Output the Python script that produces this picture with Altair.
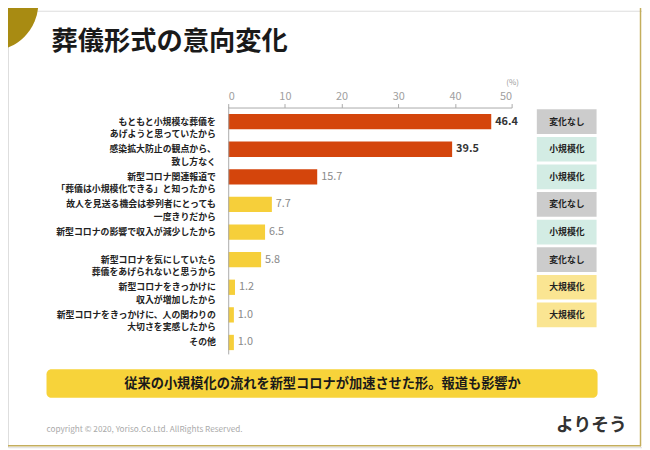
import altair as alt
import pandas as pd

# ---- data ----
reasons = [
    "もともと小規模な葬儀を\nあげようと思っていたから",
    "感染拡大防止の観点から、\n致し方なく",
    "新型コロナ関連報道で\n「葬儀は小規模化できる」と知ったから",
    "故人を見送る機会は参列者にとっても\n一度きりだから",
    "新型コロナの影響で収入が減少したから",
    "新型コロナを気にしていたら\n葬儀をあげられないと思うから",
    "新型コロナをきっかけに\n収入が増加したから",
    "新型コロナをきっかけに、人の関わりの\n大切さを実感したから",
    "その他",
]
values = [46.4, 39.5, 15.7, 7.7, 6.5, 5.8, 1.2, 1.0, 1.0]
tags = ["変化なし", "小規模化", "小規模化", "変化なし", "小規模化", "変化なし", "大規模化", "大規模化", ""]
tick_values = [0, 10, 20, 30, 40, 50]

title_text = "葬儀形式の意向変化"
banner_text = "従来の小規模化の流れを新型コロナが加速させた形。報道も影響か"
copyright_text = "copyright © 2020,  Yoriso.Co.Ltd. AllRights Reserved."
logo_text = "よりそう"

RED = "#D4450C"
YEL = "#F6CF3A"
tag_colors = {"変化なし": "#CCCCCC", "小規模化": "#D3ECE4", "大規模化": "#FAE592"}

df = pd.DataFrame({
    "row": list(range(len(values))),
    "reason": reasons,
    "value": values,
    "tag": tags,
    "barcolor": [RED if i < 3 else YEL for i in range(len(values))],
    "tagcolor": [tag_colors.get(t, "#FFFFFF") for t in tags],
})

FONT = "Noto Sans CJK JP"
W, H = 642, 442

xscale = alt.Scale(domain=[0, 50], range=[223, 510], nice=False, zero=False)
yscale = alt.Scale(domain=[0, 8], range=[112.3, 335.9], nice=False, zero=False)
xaxis = alt.Axis(orient="top", offset=-98, values=tick_values, title=None, grid=False,
                 labelColor="#A0A0A0", labelFont=FONT, labelFontSize=11, labelFontWeight="normal",
                 tickColor="#AAAAAA", domainColor="#AAAAAA", tickSize=4, labelPadding=2,
                 domainWidth=1, tickWidth=1)
XENC = alt.X("value:Q", scale=xscale, axis=xaxis)

base = alt.Chart(df)

# decoration
circle = alt.Chart(pd.DataFrame({"k": [0]})).mark_circle(size=9503, color="#A88B12", opacity=1).encode(
    x=alt.value(-18), y=alt.value(-8))
border_r = alt.Chart(pd.DataFrame({"k": [0]})).mark_rule(color="#C4AE5C", strokeWidth=1.5).encode(
    x=alt.value(640.5), y=alt.value(-8), y2=alt.value(441))
border_b = alt.Chart(pd.DataFrame({"k": [0]})).mark_rule(color="#C4AE5C", strokeWidth=1.5).encode(
    y=alt.value(440.5), x=alt.value(-8), x2=alt.value(641))

title = alt.Chart(pd.DataFrame({"t": [title_text]})).mark_text(
    font=FONT, fontSize=26.6, fontWeight="bold", color="#1A1A1A", align="left", baseline="middle"
).encode(x=alt.value(44), y=alt.value(32), text="t:N")

pct = alt.Chart(pd.DataFrame({"t": ["(%)"]})).mark_text(
    font=FONT, fontSize=8, color="#999999", align="center", baseline="middle"
).encode(x=alt.value(511), y=alt.value(73), text="t:N")

bars = base.mark_rect().transform_calculate(
    y0="datum.row - 0.277", y1="datum.row + 0.277", zero="0"
).encode(
    x=XENC,
    x2="zero:Q",
    y=alt.Y("y0:Q", scale=yscale, axis=None),
    y2="y1:Q",
    color=alt.Color("barcolor:N", scale=None),
)

zero_rule = alt.Chart(pd.DataFrame({"k": [0]})).mark_rule(color="#AAAAAA", strokeWidth=1).encode(
    x=alt.value(223.5), y=alt.value(98), y2=alt.value(348))

val_bold = base.transform_filter("datum.row < 2").mark_text(
    font=FONT, fontSize=11, fontWeight="bold", color="#333333", align="left", baseline="middle", dx=4
).encode(x=XENC, y=alt.Y("row:Q", scale=yscale, axis=None), text=alt.Text("value:Q", format=".1f"))

val_norm = base.transform_filter("datum.row >= 2").mark_text(
    font=FONT, fontSize=11, color="#8A8A8A", align="left", baseline="middle", dx=4
).encode(x=XENC, y=alt.Y("row:Q", scale=yscale, axis=None), text=alt.Text("value:Q", format=".1f"))

labels = base.mark_text(
    font=FONT, fontSize=9, fontWeight="bold", color="#222222", align="right", baseline="middle",
    lineBreak="\n", lineHeight=12.5
).encode(x=alt.value(210.5), y=alt.Y("row:Q", scale=yscale, axis=None), text="reason:N")

boxes = base.transform_filter("datum.tag != ''").transform_calculate(
    b0="datum.row - 0.447", b1="datum.row + 0.447"
).mark_rect().encode(
    x=alt.value(535.5), x2=alt.value(596),
    y=alt.Y("b0:Q", scale=yscale, axis=None), y2="b1:Q",
    color=alt.Color("tagcolor:N", scale=None),
)
box_text = base.transform_filter("datum.tag != ''").mark_text(
    font=FONT, fontSize=9, fontWeight="bold", color="#222222", align="center", baseline="middle"
).encode(x=alt.value(566), y=alt.Y("row:Q", scale=yscale, axis=None), text="tag:N")

banner = alt.Chart(pd.DataFrame({"k": [0]})).mark_rect(color="#F7D33A", cornerRadius=5).encode(
    x=alt.value(39), x2=alt.value(597), y=alt.value(363), y2=alt.value(392))
banner_t = alt.Chart(pd.DataFrame({"t": [banner_text]})).mark_text(
    font=FONT, fontSize=13.4, fontWeight="bold", color="#1A1A1A", align="center", baseline="middle"
).encode(x=alt.value(318.5), y=alt.value(377.5), text="t:N")

copy_t = alt.Chart(pd.DataFrame({"t": [copyright_text]})).mark_text(
    font=FONT, fontSize=8.3, color="#AAAAAA", align="left", baseline="middle"
).encode(x=alt.value(39), y=alt.value(425), text="t:N")

logo = alt.Chart(pd.DataFrame({"t": [logo_text]})).mark_text(
    font=FONT, fontSize=18, fontWeight="bold", color="#333333", align="left", baseline="middle"
).encode(x=alt.value(555), y=alt.value(421), text="t:N")

chart = alt.layer(
    circle, border_r, border_b, title, pct, banner, banner_t, copy_t, logo,
    bars, zero_rule, val_bold, val_norm, labels, boxes, box_text,
).properties(
    width=W, height=H, autosize=alt.AutoSizeParams(type="none"), padding=0
).configure_view(stroke=None).configure(background="white")

chart.save("out.html", embed_options={"renderer": "svg", "actions": False})
